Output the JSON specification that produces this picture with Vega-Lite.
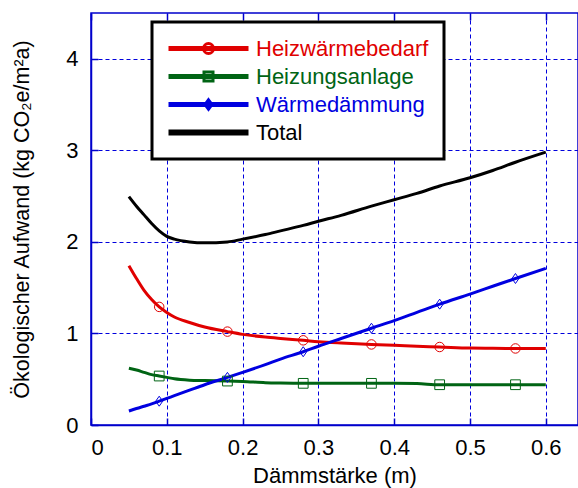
{
  "$schema": "https://vega.github.io/schema/vega-lite/v6.json",
  "width": 487,
  "height": 412,
  "autosize": {"type": "none"},
  "padding": {"left": 91, "top": 13, "right": 0, "bottom": 63},
  "background": "white",
  "config": {
    "font": "Liberation Sans",
    "view": {"stroke": "#0000cc", "strokeWidth": 1.5},
    "axis": {
      "domainColor": "#0000cc",
      "domainWidth": 1.5,
      "ticks": true,
      "tickSize": -7,
      "tickColor": "#0000cc",
      "tickWidth": 1.5,
      "grid": true,
      "gridColor": "#0000dd",
      "gridDash": [4, 3],
      "gridWidth": 1,
      "gridOpacity": 1,
      "labelColor": "black",
      "labelFont": "Liberation Sans",
      "labelFontSize": 22,
      "titleFont": "Liberation Sans",
      "titleFontSize": 22,
      "titleFontWeight": "normal",
      "titleColor": "black"
    }
  },
  "resolve": {"axis": {"x": "independent"}},
  "data": {
    "values": [
      {"d": 0.05, "Heizwärmebedarf": 1.74, "Heizungsanlage": 0.62, "Wärmedämmung": 0.153, "Total": 2.495},
      {"d": 0.06, "Heizwärmebedarf": 1.6, "Heizungsanlage": 0.6, "Wärmedämmung": 0.18, "Total": 2.39},
      {"d": 0.07, "Heizwärmebedarf": 1.47, "Heizungsanlage": 0.575, "Wärmedämmung": 0.205, "Total": 2.295},
      {"d": 0.08, "Heizwärmebedarf": 1.37, "Heizungsanlage": 0.55, "Wärmedämmung": 0.23, "Total": 2.2},
      {"d": 0.09, "Heizwärmebedarf": 1.29, "Heizungsanlage": 0.535, "Wärmedämmung": 0.26, "Total": 2.12},
      {"d": 0.1, "Heizwärmebedarf": 1.23, "Heizungsanlage": 0.52, "Wärmedämmung": 0.29, "Total": 2.06},
      {"d": 0.11, "Heizwärmebedarf": 1.18, "Heizungsanlage": 0.505, "Wärmedämmung": 0.32, "Total": 2.03},
      {"d": 0.13, "Heizwärmebedarf": 1.12, "Heizungsanlage": 0.49, "Wärmedämmung": 0.38, "Total": 2.0},
      {"d": 0.15, "Heizwärmebedarf": 1.07, "Heizungsanlage": 0.485, "Wärmedämmung": 0.44, "Total": 1.99},
      {"d": 0.18, "Heizwärmebedarf": 1.02, "Heizungsanlage": 0.48, "Wärmedämmung": 0.52, "Total": 2.0},
      {"d": 0.2, "Heizwärmebedarf": 0.99, "Heizungsanlage": 0.475, "Wärmedämmung": 0.575, "Total": 2.03},
      {"d": 0.23, "Heizwärmebedarf": 0.96, "Heizungsanlage": 0.462, "Wärmedämmung": 0.66, "Total": 2.08},
      {"d": 0.25, "Heizwärmebedarf": 0.945, "Heizungsanlage": 0.458, "Wärmedämmung": 0.72, "Total": 2.12},
      {"d": 0.28, "Heizwärmebedarf": 0.925, "Heizungsanlage": 0.455, "Wärmedämmung": 0.8, "Total": 2.18},
      {"d": 0.3, "Heizwärmebedarf": 0.91, "Heizungsanlage": 0.455, "Wärmedämmung": 0.86, "Total": 2.225},
      {"d": 0.33, "Heizwärmebedarf": 0.895, "Heizungsanlage": 0.455, "Wärmedämmung": 0.945, "Total": 2.29},
      {"d": 0.37, "Heizwärmebedarf": 0.88, "Heizungsanlage": 0.455, "Wärmedämmung": 1.057, "Total": 2.39},
      {"d": 0.4, "Heizwärmebedarf": 0.87, "Heizungsanlage": 0.455, "Wärmedämmung": 1.14, "Total": 2.46},
      {"d": 0.43, "Heizwärmebedarf": 0.86, "Heizungsanlage": 0.452, "Wärmedämmung": 1.23, "Total": 2.53},
      {"d": 0.46, "Heizwärmebedarf": 0.852, "Heizungsanlage": 0.44, "Wärmedämmung": 1.32, "Total": 2.61},
      {"d": 0.5, "Heizwärmebedarf": 0.84, "Heizungsanlage": 0.44, "Wärmedämmung": 1.43, "Total": 2.7},
      {"d": 0.53, "Heizwärmebedarf": 0.838, "Heizungsanlage": 0.44, "Wärmedämmung": 1.515, "Total": 2.78},
      {"d": 0.56, "Heizwärmebedarf": 0.836, "Heizungsanlage": 0.44, "Wärmedämmung": 1.6, "Total": 2.87},
      {"d": 0.6, "Heizwärmebedarf": 0.836, "Heizungsanlage": 0.44, "Wärmedämmung": 1.71, "Total": 2.98}
    ]
  },
  "transform": [
    {"fold": ["Heizwärmebedarf", "Heizungsanlage", "Wärmedämmung", "Total"], "as": ["series", "value"]}
  ],
  "encoding": {
    "y": {
      "field": "value", "type": "quantitative",
      "scale": {"domain": [0, 4.5], "nice": false},
      "axis": {"values": [0, 1, 2, 3, 4], "format": "~g", "title": "Ökologischer Aufwand (kg CO₂e/m²a)", "titleFontSize": 21.5, "labelPadding": 20, "titlePadding": 32}
    }
  },
  "layer": [
    {
      "mark": {"type": "line", "interpolate": "monotone", "clip": true},
      "encoding": {
        "x": {
          "field": "d", "type": "quantitative",
          "scale": {"domain": [0, 0.6425], "nice": false, "zero": false},
          "axis": {"values": [0, 0.1, 0.2, 0.3, 0.4, 0.5, 0.6], "format": "~g", "title": "Dämmstärke (m)", "labelPadding": 19, "titlePadding": 7}
        },
        "color": {
          "field": "series", "type": "nominal",
          "scale": {"domain": ["Heizwärmebedarf", "Heizungsanlage", "Wärmedämmung", "Total"], "range": ["#e00000", "#006414", "#0000e0", "#000000"]},
          "legend": {
            "title": null,
            "orient": "none",
            "legendX": 61,
            "legendY": 9,
            "padding": 15,
            "rowPadding": 5,
            "fillColor": "white",
            "strokeColor": "black",
            "symbolSize": 400,
            "symbolOffset": 30,
            "labelOffset": 36,
            "labelLimit": 400,
            "symbolStrokeWidth": 1,
            "labelFont": "Liberation Sans",
            "labelFontSize": 22,
            "encode": {
              "legend": {"update": {"stroke": {"value": "black"}, "strokeWidth": {"value": 3}}},
              "symbols": {"update": {
                "shape": {"signal": "datum.value === 'Heizwärmebedarf' ? 'M-4,-0.1H4M-4,0H4M-4,0.1H4M0.5,0A0.5,0.5,0,1,1,-0.5,0A0.5,0.5,0,1,1,0.5,0Z' : datum.value === 'Heizungsanlage' ? 'M-4,-0.1H4M-4,0H4M-4,0.1H4M-0.45,-0.45H0.45V0.45H-0.45Z' : datum.value === 'Wärmedämmung' ? 'M-4,-0.1H4M-4,0H4M-4,0.1H4M0,-0.47L0.35,0L0,0.47L-0.35,0Z' : 'M-4,-0.15H4M-4,-0.05H4M-4,0.05H4M-4,0.15H4'"},
                "fill": {"value": "transparent"},
                "stroke": {"signal": "scale('color', datum.value)"},
                "strokeWidth": {"value": 1},
                "opacity": {"value": 1}
              }},
              "labels": {"update": {"fill": {"signal": "scale('color', datum.value)"}}}
            }
          }
        },
        "strokeWidth": {
          "field": "series", "type": "nominal",
          "scale": {"domain": ["Heizwärmebedarf", "Heizungsanlage", "Wärmedämmung", "Total"], "range": [3, 3, 3, 4.5]},
          "legend": null
        }
      }
    },
    {
      "transform": [
        {"filter": "datum.series !== 'Total'"},
        {"filter": {"field": "d", "oneOf": [0.09, 0.18, 0.28, 0.37, 0.46, 0.56]}}
      ],
      "mark": {"type": "point", "filled": false, "strokeWidth": 1, "opacity": 1},
      "encoding": {
        "x": {
          "field": "d", "type": "quantitative",
          "axis": {"orient": "top", "values": [0, 0.1, 0.2, 0.3, 0.4, 0.5, 0.6], "labels": false, "grid": false, "domain": false, "title": null}
        },
        "stroke": {
          "field": "series", "type": "nominal",
          "scale": {"domain": ["Heizwärmebedarf", "Heizungsanlage", "Wärmedämmung"], "range": ["#e00000", "#006414", "#0000e0"]},
          "legend": null
        },
        "shape": {
          "field": "series", "type": "nominal",
          "scale": {"domain": ["Heizwärmebedarf", "Heizungsanlage", "Wärmedämmung"], "range": ["circle", "square", "M0,-1L0.7,0L0,1L-0.7,0Z"]},
          "legend": null
        },
        "size": {
          "field": "series", "type": "nominal",
          "scale": {"domain": ["Heizwärmebedarf", "Heizungsanlage", "Wärmedämmung"], "range": [90, 100, 121]},
          "legend": null
        }
      }
    }
  ]
}
